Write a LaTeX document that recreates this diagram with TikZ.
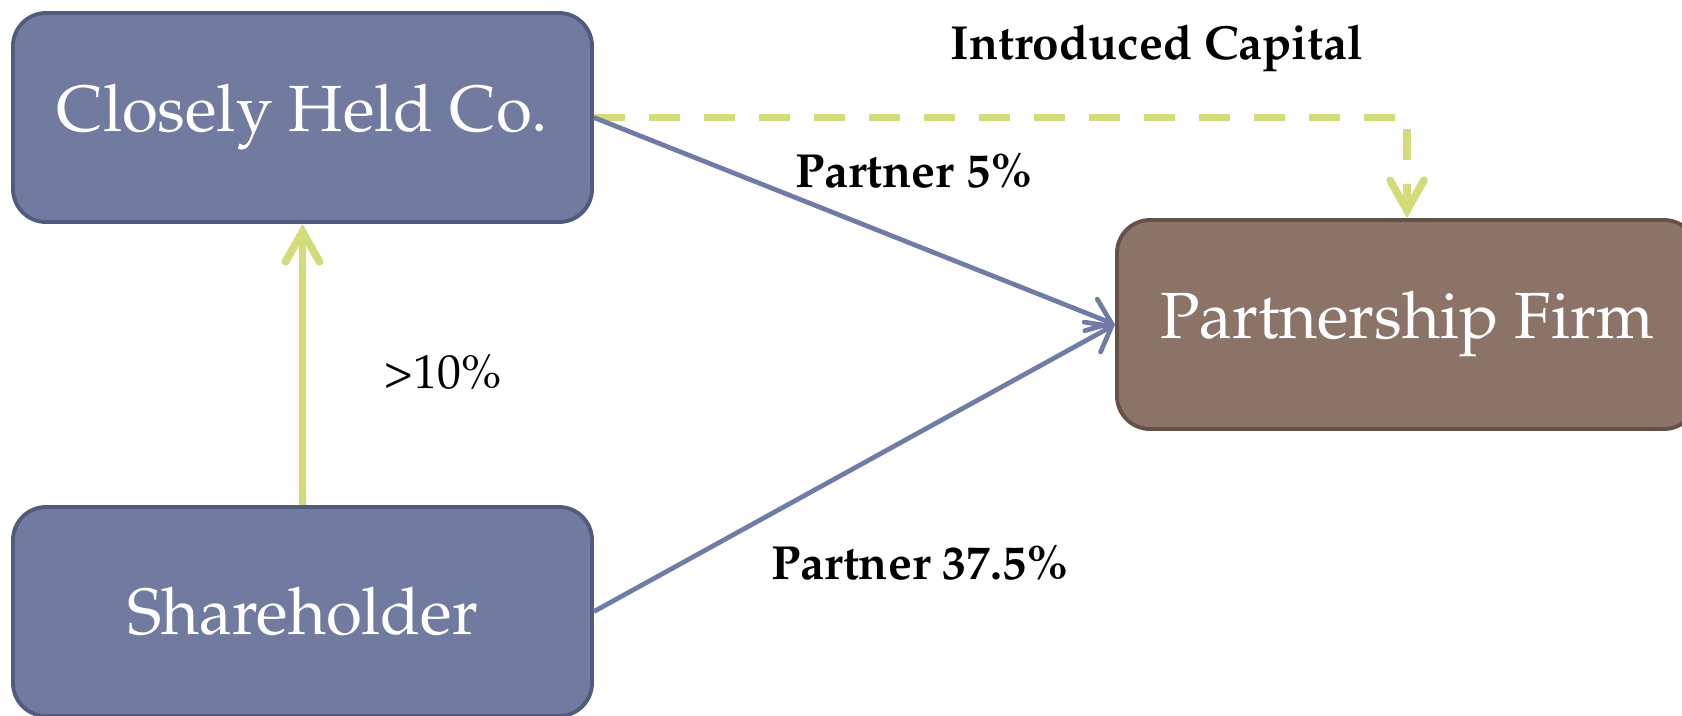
\documentclass[tikz,border=0pt]{standalone}
\usepackage[T1]{fontenc}
\usepackage{mathpazo}
\usetikzlibrary{arrows.meta}

\definecolor{entityfill}{RGB}{113,123,160}
\definecolor{entityline}{RGB}{82,90,126}
\definecolor{firmfill}{RGB}{140,115,104}
\definecolor{firmline}{RGB}{101,81,74}
\definecolor{stakegreen}{RGB}{212,219,122}
\definecolor{partnerblue}{RGB}{112,124,166}

\begin{document}
\begin{tikzpicture}[
  entity/.style={draw=entityline, fill=entityfill, line width=1.1pt, rounded corners=0.33cm,
    minimum width=5.79cm, minimum height=2.09cm, text=white, font=\fontsize{18.6}{22}\selectfont},
  firm/.style={entity, draw=firmline, fill=firmfill, minimum width=5.8cm},
  stake/.style={draw=stakegreen, line width=2.2pt,
    -{Straight Barb[length=0.3cm, width=0.34cm, line cap=round]}},
  partner/.style={draw=partnerblue, line width=1.35pt,
    -{Straight Barb[length=0.22cm, width=0.34cm, line cap=round]}},
  tag/.style={anchor=base, font=\fontsize{13.6}{16}\selectfont\bfseries}
]
\useasboundingbox (0,0) rectangle (16.82,-7.15);

\node[entity] (close) at (3.025,-1.175) {Closely Held Co.};
\node[entity] (holder) at (3.025,-6.115) {Shareholder};
\node[firm] (firm) at (14.07,-3.245) {Partnership Firm};

\draw[stake] (holder.north) -- (close.south);
\draw[stake, dash pattern=on 0.31cm off 0.24cm] (close.east) -| (firm.north);
\draw[partner] (close.east) -- (firm.west);
\draw[partner] (holder.east) -- (firm.west);

\node[tag] (capital) at (11.57,-0.59) {Introduced Capital};
\node[tag] (five) at (9.14,-1.87) {Partner 5\%};
\node[tag, font=\fontsize{13.6}{16}\selectfont] (over) at (4.43,-3.88) {>10\%};
\node[tag] (share) at (9.2,-5.79) {Partner 37.5\%};
\end{tikzpicture}
\end{document}
